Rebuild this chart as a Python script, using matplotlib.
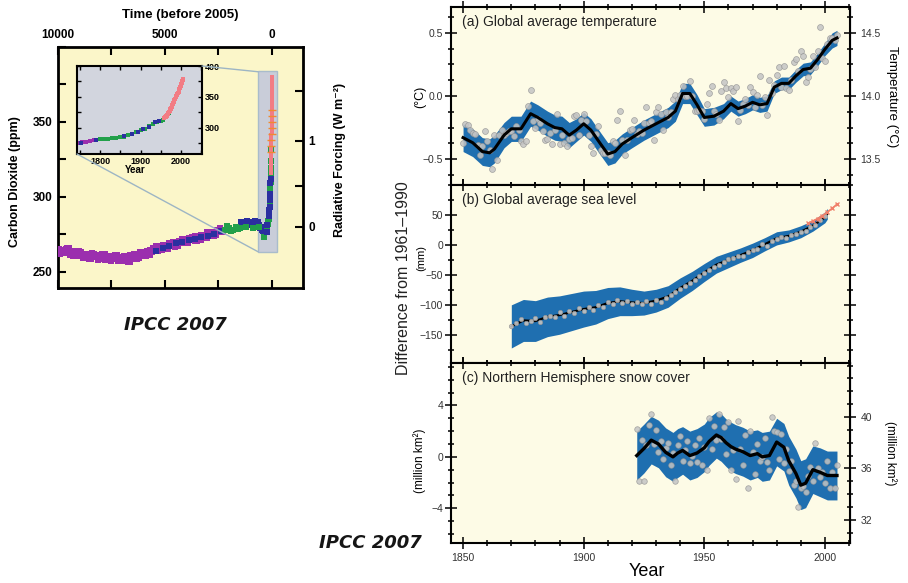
import numpy as np
import matplotlib.pyplot as plt
from matplotlib.patches import Rectangle, ConnectionPatch
from matplotlib.ticker import MultipleLocator, FuncFormatter

plt.rcParams['font.family'] = ['Liberation Sans', 'DejaVu Sans']

# ---------------- left panel: CO2 over 10000 years ----------------
purple_age = [10000, 9850, 9700, 9550, 9400, 9250, 9100, 8950, 8800, 8650,
              8500, 8350, 8200, 8050, 7900, 7750, 7600, 7450, 7300, 7150,
              7000, 6850, 6700, 6550, 6400, 6250, 6100, 5950, 5800, 5650,
              5500, 5350, 5200, 5050, 4900, 4750, 4600, 4450, 4300, 4150,
              4000, 3850, 3700, 3550, 3400, 3250, 3100, 2950, 2800, 2650,
              2500, 2350]
purple_ppm = [264.5, 264, 263.5, 265, 262, 263, 261.5, 262.5, 260, 261,
              259.5, 261, 260.5, 259, 261, 258.5, 260, 259, 260.5, 258,
              259.5, 260, 257.5, 259, 261, 260, 262.5, 261, 263, 264,
              265.5, 264.5, 266.5, 267.5, 266, 268.5, 269, 268, 270, 271,
              270, 272, 272.5, 271.5, 273.5, 274, 273, 275, 276, 275.5,
              277, 277.5]
# second, scattered set of the same record (gives the cloud its thickness)
purple2_age = [9920, 9620, 9320, 9020, 8720, 8420, 8120, 7820, 7520, 7220,
               6920, 6620, 6320, 6020, 5720, 5420, 5120, 4820, 4520, 4220,
               3920, 3620, 3320, 3020, 2720, 2420]
purple2_ppm = [262, 265.5, 260.5, 264, 259, 262.5, 258, 262, 257.5, 261.5,
               257, 261, 258.5, 263.5, 261.5, 267, 264.5, 269.5, 266.5, 272,
               269, 274, 271, 276.5, 274, 279]
blue_age = [5400, 5100, 4800, 4500, 4200, 3900, 3600, 3300, 3000, 2700,
            2400, 1450, 1400, 1350, 1300, 1200, 1150, 1100, 1000, 950,
            900, 850, 800, 750, 700, 650, 600, 550, 500, 450, 400, 350, 300, 250]
blue_ppm = [264, 266, 267, 269, 270, 271.5, 272, 273, 274, 275.5,
            277, 283, 281, 280, 282.5, 283, 284, 282, 281.5, 281,
            283, 282, 284, 280, 282.5, 283, 281, 279, 280, 278, 277, 276.5, 277.5, 277]
green_age = [2200, 2100, 2000, 1900, 1800, 1700, 1600, 1500, 1200, 900, 600, 380]
green_ppm = [278, 280.5, 279, 277.5, 278, 280, 278.5, 279, 280, 279.5, 280, 273.5]

# inset / recent record (calendar years)
early_year = [1745, 1755, 1765, 1775, 1785]
early_ppm = [276, 277, 277.5, 279, 280]
law_year = [1790, 1800, 1810, 1820, 1830, 1840, 1850, 1860, 1870, 1880, 1890,
            1900, 1910, 1920, 1930, 1940, 1950, 1955, 1960, 1965, 1970, 1975]
law_ppm = [280.5, 282, 283, 283, 284, 284, 285, 286, 288, 290, 293,
           296, 299, 303, 307, 310, 311, 313, 317, 319, 324, 331]
blue_year = [1752, 1790, 1860, 1880, 1895, 1905, 1920, 1935, 1945]
blue_rec_ppm = [276.5, 281, 287, 291, 293, 298, 302, 309, 312]
mlo_year = [1959, 1960, 1961, 1962, 1963, 1964, 1965, 1966, 1967, 1968, 1969,
            1970, 1971, 1972, 1973, 1974, 1975, 1976, 1977, 1978, 1979, 1980,
            1981, 1982, 1983, 1984, 1985, 1986, 1987, 1988, 1989, 1990, 1991,
            1992, 1993, 1994, 1995, 1996, 1997, 1998, 1999, 2000, 2001, 2002,
            2003, 2004, 2005]
mlo_ppm = [316.0, 316.9, 317.6, 318.5, 319.0, 319.6, 320.0, 321.4, 322.2, 323.0, 324.6,
           325.7, 326.3, 327.5, 329.7, 330.2, 331.1, 332.0, 333.8, 335.4, 336.8, 338.8,
           340.1, 341.5, 343.1, 344.7, 346.1, 347.4, 349.2, 351.6, 353.1, 354.4, 355.6,
           356.5, 357.1, 358.8, 360.8, 362.6, 363.7, 366.7, 368.4, 369.6, 371.1, 373.3,
           375.8, 377.5, 379.8]
firn_age = [32, 28, 24, 20, 16, 12, 8, 4]
firn_ppm = [330, 334, 338, 342, 346, 350, 354, 358]

# ---------------- right panels ----------------
temp_year = np.arange(1850, 2006)
temp_annual = [-0.37, -0.22, -0.23, -0.27, -0.29, -0.30, -0.39, -0.47, -0.40, -0.28,
               -0.36, -0.43, -0.58, -0.31, -0.51, -0.31, -0.27, -0.31, -0.29, -0.28,
               -0.28, -0.32, -0.24, -0.27, -0.36, -0.38, -0.36, -0.08, 0.05, -0.20,
               -0.25, -0.18, -0.21, -0.28, -0.35, -0.34, -0.29, -0.38, -0.27, -0.14,
               -0.38, -0.31, -0.37, -0.40, -0.34, -0.33, -0.16, -0.15, -0.31, -0.19,
               -0.14, -0.20, -0.31, -0.40, -0.45, -0.30, -0.24, -0.43, -0.45, -0.45,
               -0.45, -0.47, -0.36, -0.37, -0.19, -0.12, -0.35, -0.47, -0.35, -0.27,
               -0.26, -0.19, -0.30, -0.28, -0.29, -0.21, -0.09, -0.21, -0.20, -0.35,
               -0.13, -0.09, -0.14, -0.27, -0.13, -0.17, -0.13, -0.02, 0.01, -0.02,
               0.01, 0.08, 0.00, 0.00, 0.12, 0.00, -0.12, -0.12, -0.11, -0.12,
               -0.18, -0.06, 0.02, 0.08, -0.12, -0.14, -0.19, 0.04, 0.11, 0.06,
               -0.01, 0.06, 0.04, 0.07, -0.20, -0.11, -0.06, -0.02, -0.07, 0.07,
               0.03, -0.09, 0.01, 0.16, -0.07, -0.01, -0.15, 0.13, 0.02, 0.09,
               0.17, 0.23, 0.07, 0.24, 0.06, 0.05, 0.13, 0.27, 0.29, 0.20,
               0.36, 0.32, 0.11, 0.15, 0.21, 0.32, 0.23, 0.36, 0.55, 0.30,
               0.28, 0.41, 0.46, 0.46, 0.44, 0.48]
temp_smooth_year = [1850, 1854, 1858, 1861, 1863, 1867, 1870, 1874, 1878, 1881,
                    1885, 1888, 1891, 1894, 1897, 1900, 1903, 1907, 1910, 1913,
                    1916, 1920, 1925, 1930, 1935, 1938, 1941, 1944, 1947, 1950,
                    1954, 1958, 1961, 1964, 1967, 1970, 1973, 1976, 1979, 1982,
                    1985, 1988, 1991, 1994, 1997, 2000, 2003, 2005]
temp_smooth = [-0.33, -0.37, -0.44, -0.45, -0.42, -0.31, -0.26, -0.26, -0.14, -0.17,
               -0.22, -0.25, -0.26, -0.31, -0.27, -0.22, -0.27, -0.38, -0.46, -0.44,
               -0.38, -0.33, -0.27, -0.22, -0.17, -0.12, 0.02, 0.02, -0.07, -0.17,
               -0.16, -0.12, -0.06, -0.10, -0.08, -0.05, -0.07, -0.06, 0.07, 0.10,
               0.10, 0.16, 0.21, 0.22, 0.29, 0.37, 0.44, 0.46]
temp_err = [0.11, 0.11, 0.11, 0.11, 0.11, 0.10, 0.10, 0.10, 0.10, 0.10,
            0.10, 0.10, 0.10, 0.10, 0.09, 0.09, 0.09, 0.09, 0.09, 0.09,
            0.08, 0.08, 0.08, 0.08, 0.08, 0.08, 0.08, 0.08, 0.08, 0.07,
            0.07, 0.06, 0.06, 0.06, 0.06, 0.06, 0.06, 0.06, 0.05, 0.05,
            0.05, 0.05, 0.05, 0.05, 0.05, 0.05, 0.06, 0.06]

sea_year = [1870, 1875, 1880, 1885, 1890, 1895, 1900, 1905, 1910, 1915,
            1920, 1925, 1930, 1935, 1940, 1945, 1950, 1955, 1960, 1965,
            1970, 1975, 1980, 1985, 1990, 1995, 2000, 2001]
sea_mm = [-136, -126, -127, -120, -117, -112, -107, -104, -97, -94,
          -96, -97, -93, -86, -72, -60, -46, -33, -25, -17,
          -9, 1, 11, 15, 22, 32, 46, 52]
sea_err = [36, 35, 34, 33, 32, 31, 30, 28, 26, 24,
           22, 20, 19, 18, 17, 16, 15, 14, 13, 12,
           12, 11, 11, 10, 10, 9, 9, 9]
sea_obs_year = np.arange(1870, 2001, 2)
sea_obs = [-136, -130, -124, -130, -127, -122, -128, -120, -118, -121,
           -112, -118, -110, -113, -106, -110, -104, -108, -100, -104,
           -96, -99, -92, -97, -93, -98, -95, -99, -94, -98,
           -92, -95, -88, -84, -78, -73, -68, -63, -58, -52,
           -46, -42, -36, -33, -28, -24, -22, -18, -19, -12,
           -9, -6, 1, -2, 6, 10, 14, 12, 16, 19,
           22, 24, 30, 34, 42, 48]
sat_year = [1993, 1995, 1997, 1999, 2001, 2003, 2005]
sat_mm = [36, 40, 44, 49, 55, 61, 68]

snow_year = np.arange(1922, 2006)
snow_obs = [2.2, -1.9, 1.3, -1.9, 0.9, 2.5, 3.3, 1.0, 2.1, 0.4,
            1.2, -0.2, 0.7, 1.1, -0.6, 0.3, -1.9, 0.9, 1.6, -0.3,
            0.5, 1.2, -0.5, 0.1, 0.9, -0.4, 1.5, -0.6, 0.8, -1.0,
            3.0, 0.6, 2.4, 1.3, 3.3, 1.4, 2.3, 0.2, 2.7, -1.0,
            0.5, -1.7, 2.8, 0.6, -0.6, 1.7, -2.4, 2.0, 0.4, -1.3,
            1.0, -0.3, 0.0, 1.5, -0.4, -1.0, 3.1, 2.0, 1.9, -0.2,
            1.8, -0.5, 0.6, -1.1, -0.3, -2.2, -1.9, -3.9, -2.4, -2.3,
            -2.7, -1.5, -0.8, -1.9, 1.1, -0.9, -1.6, -1.2, -2.0, -0.3,
            -2.4, -1.2, -2.4, -0.6]
snow_smooth_year = [1922, 1925, 1928, 1931, 1934, 1937, 1939, 1941, 1944, 1947,
                    1950, 1952, 1955, 1957, 1959, 1961, 1963, 1966, 1969, 1972,
                    1974, 1977, 1980, 1983, 1985, 1988, 1990, 1992, 1995, 1998,
                    2001, 2005]
snow_smooth = [0.1, 0.65, 1.3, 1.0, 0.35, 0.0, 0.3, 0.5, 0.1, 0.3,
               0.7, 1.2, 1.7, 1.5, 1.1, 0.8, 0.6, 0.4, 0.1, 0.25,
               0.0, 0.1, 1.15, 0.75, -0.3, -1.3, -2.2, -2.05, -1.0, -1.2,
               -1.45, -1.45]
snow_err = [1.9, 1.9, 1.85, 1.85, 1.9, 1.9, 1.9, 1.85, 1.9, 1.9,
            1.85, 1.85, 1.8, 1.85, 1.85, 1.9, 1.9, 1.9, 1.9, 1.85,
            1.9, 1.9, 1.85, 1.85, 1.9, 1.9, 1.9, 1.9, 1.85, 1.9,
            1.9, 1.9]

BAND = '#1f6fb0'
PT_FACE = '#c4c4c4'
PT_EDGE = '#959595'

W, H = 908, 583
fig = plt.figure(figsize=(W / 100, H / 100), dpi=100)


def px(x0, y0, x1, y1):
    return [x0 / W, 1 - y1 / H, (x1 - x0) / W, (y1 - y0) / H]


# ================= left panel =================
ax = fig.add_axes(px(58, 47, 303, 288))
ax.set_facecolor('#fbf6c9')
ax.set_xlim(10000, -1450)
ax.set_ylim(239.3, 400)
ax.add_patch(Rectangle((-234, 263.3), 888, 120.7, facecolor='#c9cdd9',
                       edgecolor='#a9bccb', lw=1, zorder=1))
ax.plot(purple2_age, purple2_ppm, 's', color='#9b2fae', ms=5, mew=0, zorder=3)
ax.plot(purple_age, purple_ppm, 's', color='#9b2fae', ms=5.5, mew=0, zorder=3)
ax.plot(blue_age, blue_ppm, 's', color='#2b2fa0', ms=5, mew=0, zorder=3)
ax.plot(green_age, green_ppm, 's', color='#22a04a', ms=4.5, mew=0, zorder=3)
ax.plot([2005 - y for y in law_year], law_ppm, 's', color='#22a04a', ms=4, mew=0, zorder=3)
ax.plot([2005 - y for y in blue_year], blue_rec_ppm, 's', color='#2b2fa0', ms=4, mew=0, zorder=3)
ax.plot([2005 - y for y in mlo_year], mlo_ppm, 's', color='#f27c84', ms=3.5, mew=0, zorder=4)
ax.plot(firn_age, firn_ppm, '_', color='#f08a30', ms=6, mew=1, zorder=5)

ax.set_xticks([10000, 5000, 0])
ax.set_xticklabels(['10000', '5000', '0'], fontweight='bold', fontsize=8.5)
ax.xaxis.set_minor_locator(MultipleLocator(2500))
ax.set_yticks([250, 300, 350])
ax.set_yticklabels(['250', '300', '350'], fontweight='bold', fontsize=8.5)
ax.yaxis.set_minor_locator(MultipleLocator(25))
ax.tick_params(which='both', direction='in', length=6, width=1.5, top=True, bottom=True,
               labeltop=True, labelbottom=False, left=True, right=False, pad=4)
for s in ax.spines.values():
    s.set_linewidth(2)

rf = ax.secondary_yaxis('right', functions=(lambda c: 5.35 * np.log(np.clip(c, 1, None) / 280.0),
                                            lambda f: 280.0 * np.exp(f / 5.35)))
rf.set_yticks([0, 0.5, 1, 1.5])
rf.set_yticklabels(['0', '', '1', ''], fontweight='bold', fontsize=8.5)
rf.tick_params(direction='in', length=6, width=1.5, pad=4)

# inset
axin = fig.add_axes(px(77, 66, 202, 154))
axin.set_facecolor('#d2d5de')
axin.set_xlim(1743, 2052)
axin.set_ylim(258, 400)
axin.plot(early_year, early_ppm, 's', color='#9b2fae', ms=2.5, mew=0)
axin.plot(law_year, law_ppm, 's', color='#22a04a', ms=2.5, mew=0)
axin.plot(blue_year, blue_rec_ppm, 's', color='#2b2fa0', ms=2.5, mew=0)
axin.plot(mlo_year, mlo_ppm, 's', color='#f27c84', ms=3, mew=0)
axin.set_xticks([1800, 1900, 2000])
axin.set_xticklabels(['1800', '1900', '2000'], fontweight='bold', fontsize=6.5)
axin.xaxis.set_minor_locator(MultipleLocator(50))
axin.set_yticks([300, 350, 400])
axin.set_yticklabels(['300', '350', '400'], fontweight='bold', fontsize=6.5)
axin.yaxis.set_minor_locator(MultipleLocator(25))
axin.tick_params(which='both', direction='in', length=3, width=1, top=True, bottom=True,
                 left=True, right=True, labelleft=False, labelright=True, pad=2)
for s in axin.spines.values():
    s.set_linewidth(1.5)

for xyA, xyB in [((1, 1), (654, 383.5)), ((0, 0), (654, 263.5))]:
    con = ConnectionPatch(xyA=xyA, coordsA=axin.transAxes, xyB=xyB, coordsB=ax.transData,
                          color='#9db5c4', lw=1)
    fig.add_artist(con)

fig.text(135 / W, 1 - 170 / H, 'Year', fontsize=7, fontweight='bold', ha='center', va='center')
fig.text(180 / W, 1 - 15 / H, 'Time (before 2005)', fontsize=9.5, fontweight='bold',
         ha='center', va='center')
fig.text(15 / W, 1 - 182 / H, 'Carbon Dioxide (ppm)', fontsize=9, fontweight='bold',
         rotation=90, ha='center', va='center')
fig.text(340 / W, 1 - 160 / H, 'Radiative Forcing (W m\u207b\u00b2)', fontsize=9,
         fontweight='bold', rotation=90, ha='center', va='center')
fig.text(175 / W, 1 - 325 / H, 'IPCC 2007', fontsize=13, fontweight='bold', style='italic',
         family='DejaVu Sans', ha='center', va='center', color='#151515')
fig.text(370 / W, 1 - 543 / H, 'IPCC 2007', fontsize=13, fontweight='bold', style='italic',
         family='DejaVu Sans', ha='center', va='center', color='#151515')

# ================= right panels =================
ax_a = fig.add_axes(px(451, 7, 850, 185))
ax_b = fig.add_axes(px(451, 185, 850, 363))
ax_c = fig.add_axes(px(451, 363, 850, 543))
minus_fmt = lambda fmt: FuncFormatter(lambda v, p: (fmt % v).replace('-', '\u2212'))

for a in (ax_a, ax_b, ax_c):
    a.set_facecolor('#fdfbe6')
    a.set_xlim(1845, 2010.4)
    a.xaxis.set_major_locator(MultipleLocator(50))
    a.xaxis.set_minor_locator(MultipleLocator(10))
    a.tick_params(which='both', direction='inout', top=True, bottom=True, left=True,
                  labelsize=7.5, labelcolor='#333333', width=1.1)
    a.tick_params(which='major', length=8)
    a.tick_params(which='minor', length=5)
    a.tick_params(axis='y', pad=1.5)
    for s in a.spines.values():
        s.set_linewidth(1.5)
ax_a.tick_params(labelbottom=False, right=False)
ax_b.tick_params(which='both', labelbottom=False, right=True, labelright=False)
ax_c.tick_params(right=False)

# (a) temperature
lo = [m - e for m, e in zip(temp_smooth, temp_err)]
hi = [m + e for m, e in zip(temp_smooth, temp_err)]
ax_a.fill_between(temp_smooth_year, lo, hi, color=BAND, lw=0, zorder=1)
ax_a.scatter(temp_year, temp_annual, s=18, facecolor=PT_FACE, edgecolor=PT_EDGE,
             lw=0.5, alpha=0.85, zorder=2)
ax_a.plot(temp_smooth_year, temp_smooth, color='black', lw=2.2, zorder=3)
ax_a.set_ylim(-0.705, 0.705)
ax_a.set_yticks([-0.5, 0, 0.5])
ax_a.yaxis.set_major_formatter(minus_fmt('%.1f'))
ax_a.yaxis.set_minor_locator(MultipleLocator(0.125))
ax_a.text(0.028, 0.915, '(a) Global average temperature', transform=ax_a.transAxes,
          fontsize=10, va='center', ha='left', color='#222222')
ta = ax_a.secondary_yaxis('right', functions=(lambda v: v + 14.0, lambda v: v - 14.0))
ta.set_yticks([13.5, 14.0, 14.5])
ta.yaxis.set_major_formatter(minus_fmt('%.1f'))
ta.yaxis.set_minor_locator(MultipleLocator(0.125))
ta.tick_params(which='both', direction='inout', labelsize=7.5, labelcolor='#333333', width=1.1)
ta.tick_params(which='major', length=8)
ta.tick_params(which='minor', length=5)

# (b) sea level
lo = [m - e for m, e in zip(sea_mm, sea_err)]
hi = [m + e for m, e in zip(sea_mm, sea_err)]
ax_b.fill_between(sea_year, lo, hi, color=BAND, lw=0, zorder=1)
ax_b.plot(sea_year, sea_mm, color='black', lw=1.6, zorder=2)
ax_b.scatter(sea_obs_year, sea_obs, s=10, facecolor=PT_FACE, edgecolor=PT_EDGE,
             lw=0.5, alpha=0.9, zorder=3)
ax_b.plot(sat_year, sat_mm, color='#f0806a', lw=1.2, marker='x', ms=3, zorder=4)
ax_b.set_ylim(-197, 100)
ax_b.set_yticks([-150, -100, -50, 0, 50])
ax_b.yaxis.set_major_formatter(minus_fmt('%d'))
ax_b.yaxis.set_minor_locator(MultipleLocator(25))
ax_b.text(0.028, 0.915, '(b) Global average sea level', transform=ax_b.transAxes,
          fontsize=10, va='center', ha='left', color='#222222')

# (c) snow cover
lo = [m - e for m, e in zip(snow_smooth, snow_err)]
hi = [m + e for m, e in zip(snow_smooth, snow_err)]
ax_c.fill_between(snow_smooth_year, lo, hi, color=BAND, lw=0, zorder=1)
ax_c.scatter(snow_year, snow_obs, s=16, facecolor=PT_FACE, edgecolor=PT_EDGE,
             lw=0.5, alpha=0.85, zorder=2)
ax_c.plot(snow_smooth_year, snow_smooth, color='black', lw=2.4, zorder=3)
ax_c.set_ylim(-6.7, 7.3)
ax_c.set_yticks([-4, 0, 4])
ax_c.yaxis.set_major_formatter(minus_fmt('%d'))
ax_c.yaxis.set_minor_locator(MultipleLocator(1))
ax_c.text(0.028, 0.915, '(c) Northern Hemisphere snow cover', transform=ax_c.transAxes,
          fontsize=10, va='center', ha='left', color='#222222')
tc = ax_c.secondary_yaxis('right', functions=(lambda v: v + 36.9, lambda v: v - 36.9))
tc.set_yticks([32, 36, 40])
tc.yaxis.set_minor_locator(MultipleLocator(1))
tc.tick_params(which='both', direction='inout', labelsize=7.5, labelcolor='#333333', width=1.1)
tc.tick_params(which='major', length=8)
tc.tick_params(which='minor', length=5)

fig.text(403 / W, 1 - 278 / H, 'Difference from 1961\u20131990', fontsize=11.5,
         rotation=90, ha='center', va='center', color='#222222')
fig.text(420 / W, 1 - 97 / H, '(\u00b0C)', fontsize=9, rotation=90, ha='center', va='center')
fig.text(421 / W, 1 - 258 / H, '(mm)', fontsize=8, rotation=90, ha='center', va='center')
fig.text(420 / W, 1 - 461 / H, '(million km\u00b2)', fontsize=8.5, rotation=90,
         ha='center', va='center')
fig.text(892 / W, 1 - 97 / H, 'Temperature (\u00b0C)', fontsize=9.5, rotation=270,
         ha='center', va='center')
fig.text(890 / W, 1 - 453 / H, '(million km\u00b2)', fontsize=8.5, rotation=270,
         ha='center', va='center')
fig.text(647 / W, 1 - 572 / H, 'Year', fontsize=13, ha='center', va='center')

fig.savefig('out.png', dpi=100)
